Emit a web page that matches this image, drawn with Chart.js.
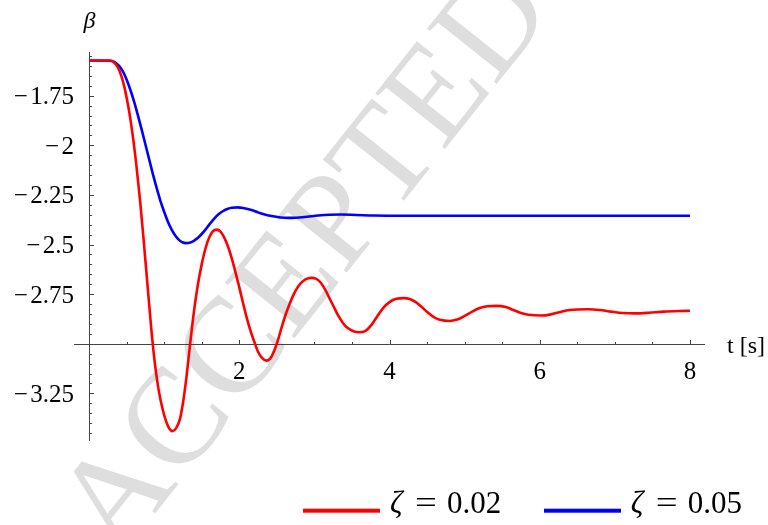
<!DOCTYPE html>
<html>
<head>
<meta charset="utf-8">
<script src="https://cdn.jsdelivr.net/npm/chart.js@4/dist/chart.umd.min.js"></script>
<style>
  html, body { margin: 0; padding: 0; background: #fff; }
  #wrap { width: 768px; height: 525px; }
</style>
</head>
<body>
<div id="wrap"><canvas id="c" width="768" height="525"></canvas></div>
<script>
// Steering angle beta(t) for two damping ratios
const timeRed = [
  0, 0.28, 0.33, 0.38, 0.43, 0.48, 0.53, 0.58, 0.63, 0.68, 0.73, 0.78, 0.83, 0.88, 0.93, 0.98, 1.03, 1.07, 1.113,
  1.16, 1.21, 1.25, 1.29, 1.33, 1.37, 1.41, 1.45, 1.50, 1.55, 1.60, 1.65, 1.70,
  1.75, 1.80, 1.85, 1.90, 1.95, 2.00, 2.05, 2.10, 2.15, 2.20, 2.25, 2.30, 2.36,
  2.42, 2.47, 2.52, 2.57, 2.62, 2.67, 2.72, 2.77, 2.82, 2.88, 2.96,
  3.02, 3.08, 3.14, 3.20, 3.26, 3.32, 3.38, 3.44, 3.52, 3.60,
  3.68, 3.76, 3.84, 3.92, 4.00, 4.08, 4.19,
  4.27, 4.35, 4.43, 4.51, 4.59, 4.67, 4.80,
  4.90, 5.00, 5.10, 5.20, 5.30, 5.42,
  5.55, 5.65, 5.75, 5.85, 6.02,
  6.15, 6.27, 6.40, 6.645,
  6.80, 6.95, 7.10, 7.27, 7.45, 7.65, 7.85, 8.0
];
const betaRed = [
  -1.573, -1.573, -1.582, -1.605, -1.650, -1.722, -1.820, -1.945, -2.100, -2.280, -2.490, -2.710, -2.930, -3.110, -3.240, -3.330, -3.395, -3.428, -3.440,
  -3.425, -3.380, -3.300, -3.190, -3.055, -2.920, -2.800, -2.700, -2.600, -2.520, -2.465, -2.433, -2.425,
  -2.435, -2.465, -2.510, -2.570, -2.640, -2.715, -2.795, -2.870, -2.935, -2.990, -3.040, -3.070, -3.085,
  -3.070, -3.030, -2.975, -2.910, -2.850, -2.800, -2.755, -2.720, -2.695, -2.676, -2.668,
  -2.672, -2.690, -2.725, -2.770, -2.815, -2.860, -2.895, -2.920, -2.937, -2.942,
  -2.935, -2.905, -2.860, -2.818, -2.790, -2.775, -2.770,
  -2.774, -2.790, -2.815, -2.843, -2.866, -2.879, -2.885,
  -2.878, -2.860, -2.838, -2.820, -2.811, -2.809,
  -2.815, -2.830, -2.845, -2.854, -2.858,
  -2.852, -2.840, -2.830, -2.826,
  -2.830, -2.838, -2.845, -2.847, -2.844, -2.838, -2.835, -2.834
];
const timeBlue = [
  0, 0.30, 0.35, 0.40, 0.45, 0.50, 0.55, 0.60, 0.65, 0.70, 0.75, 0.80, 0.85, 0.90, 0.95, 1.00, 1.05, 1.10, 1.15, 1.20, 1.25, 1.29,
  1.35, 1.40, 1.45, 1.50, 1.55, 1.60, 1.65, 1.70, 1.75, 1.80, 1.85, 1.90, 1.98,
  2.05, 2.15, 2.25, 2.35, 2.45, 2.55, 2.65, 2.75, 2.90, 3.05, 3.20, 3.35, 3.55, 3.80, 4.2, 5.0, 8.0
];
const betaBlue = [
  -1.573, -1.575, -1.583, -1.600, -1.628, -1.668, -1.720, -1.780, -1.848, -1.920, -1.995, -2.070, -2.145, -2.215, -2.280, -2.335, -2.385, -2.425, -2.456, -2.478, -2.490, -2.493,
  -2.490, -2.480, -2.466, -2.447, -2.425, -2.400, -2.377, -2.356, -2.340, -2.328, -2.320, -2.315, -2.313,
  -2.316, -2.325, -2.338, -2.350, -2.358, -2.364, -2.366, -2.365, -2.360, -2.354, -2.350, -2.349, -2.351, -2.354, -2.355, -2.355, -2.355
];

const zetaLabels  = ['0.02', '0.05'];
const xTickValues = [2, 4, 6, 8];
const xTickLabels = ['2', '4', '6', '8'];
const yTickValues = [-1.75, -2, -2.25, -2.5, -2.75, -3.25];
const yTickLabels = ['1.75', '2', '2.25', '2.5', '2.75', '3.25'];

const toPoints = (ts, vs) => ts.map((t, i) => ({ x: t, y: vs[i] }));

const SERIF = '"Liberation Serif", "Times New Roman", serif';
const AXIS_COLOR = '#444';

// faint diagonal stamp behind the plot
const stampPlugin = {
  id: 'stamp',
  beforeDraw(chart) {
    const ctx = chart.ctx;
    ctx.save();
    ctx.translate(118, 560);
    ctx.rotate(-51.5 * Math.PI / 180);
    ctx.font = '136px ' + SERIF;
    ctx.fillStyle = '#dedede';
    ctx.textBaseline = 'alphabetic';
    ctx.fillText('ACCEPTED MANUSCRIPT', 0, 0);
    ctx.restore();
  }
};

// axes through (0, -3) with inward tick marks
const axesPlugin = {
  id: 'crossAxes',
  beforeDatasetsDraw(chart) {
    const { ctx, scales: { x, y } } = chart;
    const x0 = Math.round(x.getPixelForValue(0)) + 0.5;
    const y0 = Math.round(y.getPixelForValue(-3)) + 0.5;
    ctx.save();
    ctx.strokeStyle = AXIS_COLOR;
    ctx.lineWidth = 1;
    ctx.beginPath();
    ctx.moveTo(x.left, y0); ctx.lineTo(x.right, y0);
    ctx.moveTo(x0, y.top); ctx.lineTo(x0, y.bottom);
    // x ticks every 0.5, major every 2
    for (let k = 1; k <= 16; k++) {
      const px = Math.round(x.getPixelForValue(k * 0.5)) + 0.5;
      const len = (k % 4 === 0) ? 4.5 : 2.5;
      ctx.moveTo(px, y0); ctx.lineTo(px, y0 - len);
    }
    // y ticks every 0.05, major every 0.25
    for (let k = -69; k <= -31; k++) {
      const v = k * 0.05;
      if (v < y.min || v > y.max) continue;
      const py = Math.round(y.getPixelForValue(v)) + 0.5;
      const len = (k % 5 === 0) ? 4.5 : 2.5;
      ctx.moveTo(x0, py); ctx.lineTo(x0 + len, py);
    }
    ctx.stroke();
    ctx.restore();
  },
  afterDraw(chart) {
    const { ctx, scales: { x, y } } = chart;
    const x0 = x.getPixelForValue(0);
    const y0 = y.getPixelForValue(-3);
    ctx.save();
    ctx.fillStyle = '#000';
    ctx.font = '25px ' + SERIF;
    ctx.textBaseline = 'alphabetic';
    // x tick labels
    ctx.textAlign = 'center';
    xTickValues.forEach((v, i) => {
      ctx.fillText(xTickLabels[i], x.getPixelForValue(v), y0 + 35);
    });
    // y tick labels with a separate minus sign
    yTickValues.forEach((v, i) => {
      const py = y.getPixelForValue(v) + 8.5;
      const right = x0 - 15;
      ctx.textAlign = 'right';
      ctx.fillText(yTickLabels[i], right, py);
      const w = ctx.measureText(yTickLabels[i]).width;
      ctx.fillText('\u2212', right - w - 2.5, py);
    });
    // axis titles
    ctx.textAlign = 'left';
    ctx.font = '24px ' + SERIF;
    ctx.fillText('t [s]', 727, y0 + 9.5);
    ctx.font = 'italic 24px ' + SERIF;
    ctx.textAlign = 'center';
    ctx.fillText('\u03B2', 89.5, 28);

    // legend
    const colors = ['#ff0000', '#0000ff'];
    const lineX = [303, 544];
    const textX = [390, 630.7];
    for (let i = 0; i < 2; i++) {
      ctx.fillStyle = colors[i];
      ctx.fillRect(lineX[i], 508.7, 77, 4);
      ctx.fillStyle = '#000';
      ctx.textAlign = 'left';
      ctx.font = 'italic 31px ' + SERIF;
      ctx.fillText('\u03B6', textX[i], 513);
      ctx.font = '31px ' + SERIF;
      ctx.textAlign = 'center';
      ctx.save();
      ctx.translate(textX[i] + 36, 513);
      ctx.scale(1.25, 1);
      ctx.fillText('=', 0, 0);
      ctx.restore();
      ctx.textAlign = 'left';
      ctx.fillText(zetaLabels[i], textX[i] + 57, 513);
    }
    ctx.restore();
  }
};

new Chart(document.getElementById('c'), {
  type: 'line',
  data: {
    datasets: [
      {
        label: '\u03B6 = ' + zetaLabels[0],
        data: toPoints(timeRed, betaRed),
        borderColor: '#ff0000',
        borderWidth: 2.6,
        pointRadius: 0,
        fill: false,
        cubicInterpolationMode: 'monotone'
      },
      {
        label: '\u03B6 = ' + zetaLabels[1],
        data: toPoints(timeBlue, betaBlue),
        borderColor: '#0000ff',
        borderWidth: 2.6,
        pointRadius: 0,
        fill: false,
        cubicInterpolationMode: 'monotone'
      }
    ]
  },
  options: {
    responsive: false,
    animation: false,
    devicePixelRatio: 1,
    layout: { padding: { left: 74, right: 63, top: 52, bottom: 84 } },
    plugins: { legend: { display: false }, tooltip: { enabled: false } },
    scales: {
      x: { type: 'linear', min: -0.2, max: 8.2, display: false },
      y: { type: 'linear', min: -3.49, max: -1.53, display: false }
    }
  },
  plugins: [stampPlugin, axesPlugin]
});
</script>
</body>
</html>
